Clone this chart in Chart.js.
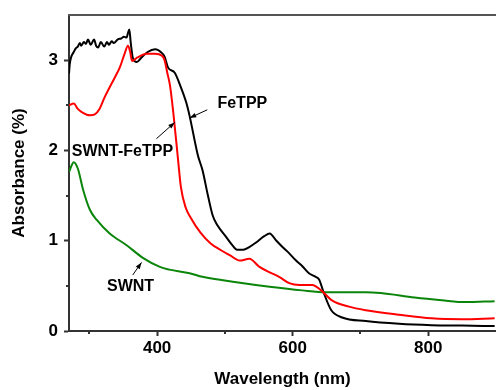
<!DOCTYPE html>
<html>
<head>
<meta charset="utf-8">
<script src="https://cdn.jsdelivr.net/npm/chart.js@4.4.1/dist/chart.umd.min.js"></script>
<style>
  html, body { margin: 0; padding: 0; background: #fff; }
  #wrap { width: 496px; height: 390px; }
</style>
</head>
<body>
<div id="wrap"><canvas id="uvChart" width="496" height="390"></canvas></div>
<script>
// 波长 (nm) 与吸光度数据
const feWl = [270, 271, 273, 277, 280, 283, 286, 288, 292, 295, 298, 302, 307, 310, 313, 317, 322, 326, 329, 333, 336, 342, 347, 351, 355, 357, 359, 361, 364, 370, 377, 386, 397, 407, 411, 416, 426, 433, 443, 448, 460, 467, 475, 482, 489, 502, 510, 518, 527, 536, 546, 558, 566, 576, 585, 595, 605, 614, 624, 634, 639, 646, 657, 673, 708, 757, 805, 850, 898];
const feAbs = [2.85, 2.95, 3.03, 3.09, 3.13, 3.15, 3.19, 3.16, 3.20, 3.18, 3.23, 3.17, 3.23, 3.16, 3.14, 3.20, 3.15, 3.20, 3.17, 3.21, 3.19, 3.23, 3.24, 3.26, 3.25, 3.30, 3.34, 3.20, 3.03, 2.98, 3.03, 3.09, 3.12, 3.08, 3.04, 2.92, 2.86, 2.74, 2.53, 2.38, 1.95, 1.78, 1.50, 1.28, 1.17, 1.04, 0.96, 0.90, 0.90, 0.93, 0.98, 1.05, 1.08, 1.00, 0.93, 0.86, 0.78, 0.72, 0.64, 0.60, 0.57, 0.42, 0.23, 0.15, 0.11, 0.08, 0.065, 0.06, 0.055];

const swFeWl = [270, 277, 283, 290, 301, 308, 315, 322, 330, 337, 345, 352, 357, 360, 363, 371, 385, 397, 407, 411, 415, 419, 424, 431, 435, 442, 450, 464, 479, 493, 507, 522, 536, 551, 566, 580, 595, 610, 629, 642, 658, 683, 708, 757, 805, 850, 898];
const swFeAbs = [2.50, 2.52, 2.46, 2.42, 2.39, 2.40, 2.46, 2.58, 2.70, 2.80, 2.92, 3.07, 3.16, 3.10, 2.99, 3.03, 3.07, 3.07, 3.05, 3.00, 2.86, 2.72, 2.41, 1.89, 1.60, 1.37, 1.25, 1.09, 0.97, 0.90, 0.84, 0.78, 0.80, 0.71, 0.65, 0.60, 0.53, 0.51, 0.51, 0.45, 0.34, 0.27, 0.23, 0.18, 0.14, 0.13, 0.14];

const swWl = [270, 272, 277, 283, 291, 301, 311, 330, 355, 379, 404, 418, 448, 467, 517, 566, 614, 649, 708, 730, 780, 820, 855, 898];
const swAbs = [1.76, 1.80, 1.87, 1.80, 1.56, 1.34, 1.23, 1.08, 0.95, 0.81, 0.71, 0.68, 0.64, 0.60, 0.54, 0.49, 0.45, 0.43, 0.43, 0.42, 0.37, 0.34, 0.32, 0.33];

// 刻度
const xTicks = [400, 600, 800];
const xMinor = [300, 500, 700];
const yTicks = [0, 1, 2, 3];
const yMinor = [0.5, 1.5, 2.5];

// 标注 (文字位置与箭头, 数据坐标)
const notes = [
  { text: 'FeTPP', at: [489, 2.52], from: [474, 2.45], to: [448, 2.36] },
  { text: 'SWNT-FeTPP', at: [274, 1.99], from: [399, 2.13], to: [426, 2.31] },
  { text: 'SWNT', at: [326, 0.49], from: [364, 0.62], to: [377, 0.76] }
];

const FONT = "'Liberation Sans', Arial, sans-serif";

function toPoints(xs, ys) {
  return xs.map((x, i) => ({ x: x, y: ys[i] }));
}

// 次刻度、上边框和标注
const extras = {
  id: 'extras',
  afterDraw(chart) {
    const ctx = chart.ctx;
    const area = chart.chartArea;
    const xs = chart.scales.x;
    const ys = chart.scales.y;
    ctx.save();
    ctx.strokeStyle = '#333';
    ctx.lineWidth = 2;
    xMinor.forEach(v => {
      const px = Math.round(xs.getPixelForValue(v));
      ctx.beginPath();
      ctx.moveTo(px, area.bottom);
      ctx.lineTo(px, area.bottom + 3);
      ctx.stroke();
    });
    yMinor.forEach(v => {
      const py = Math.round(ys.getPixelForValue(v));
      ctx.beginPath();
      ctx.moveTo(area.left, py);
      ctx.lineTo(area.left - 3, py);
      ctx.stroke();
    });
    // 上边框
    ctx.strokeStyle = '#555';
    ctx.beginPath();
    ctx.moveTo(area.left - 1, area.top);
    ctx.lineTo(area.right, area.top);
    ctx.stroke();

    // 标注
    ctx.fillStyle = '#000';
    ctx.strokeStyle = '#000';
    ctx.lineWidth = 1;
    ctx.font = 'bold 16px ' + FONT;
    ctx.textBaseline = 'middle';
    ctx.textAlign = 'left';
    notes.forEach(n => {
      ctx.fillText(n.text, xs.getPixelForValue(n.at[0]), ys.getPixelForValue(n.at[1]));
      const x1 = xs.getPixelForValue(n.from[0]), y1 = ys.getPixelForValue(n.from[1]);
      const x2 = xs.getPixelForValue(n.to[0]), y2 = ys.getPixelForValue(n.to[1]);
      const ang = Math.atan2(y2 - y1, x2 - x1);
      ctx.beginPath();
      ctx.moveTo(x1, y1);
      ctx.lineTo(x2, y2);
      ctx.stroke();
      ctx.beginPath();
      ctx.moveTo(x2, y2);
      ctx.lineTo(x2 - 7 * Math.cos(ang - 0.35), y2 - 7 * Math.sin(ang - 0.35));
      ctx.lineTo(x2 - 7 * Math.cos(ang + 0.35), y2 - 7 * Math.sin(ang + 0.35));
      ctx.closePath();
      ctx.fill();
    });
    ctx.restore();
  }
};

const tickFont = { family: FONT, size: 17, weight: 'bold' };

new Chart(document.getElementById('uvChart'), {
  type: 'line',
  data: {
    datasets: [
      { label: 'SWNT-FeTPP', data: toPoints(swFeWl, swFeAbs), borderColor: '#ff0000' },
      { label: 'FeTPP', data: toPoints(feWl, feAbs), borderColor: '#000000' },
      { label: 'SWNT', data: toPoints(swWl, swAbs), borderColor: '#0a850a' }
    ]
  },
  options: {
    responsive: false,
    animation: false,
    devicePixelRatio: 1,
    layout: { padding: { top: 15, right: 0, bottom: 0, left: 0 } },
    elements: {
      line: { borderWidth: 2, cubicInterpolationMode: 'monotone' },
      point: { radius: 0 }
    },
    plugins: {
      legend: { display: false },
      tooltip: { enabled: false }
    },
    scales: {
      x: {
        type: 'linear',
        min: 270,
        max: 900,
        afterBuildTicks: axis => { axis.ticks = xTicks.map(v => ({ value: v })); },
        afterFit: axis => { axis.height = 59; axis.paddingLeft = 0; axis.paddingRight = 0; },
        ticks: { font: tickFont, color: '#000', padding: 2, maxRotation: 0, autoSkip: false },
        grid: { drawOnChartArea: false, tickLength: 5, tickWidth: 2, tickColor: '#333' },
        border: { color: '#333', width: 2 },
        title: { display: true, text: 'Wavelength (nm)', font: tickFont, color: '#000', padding: 0 }
      },
      y: {
        min: 0,
        max: 3.5,
        afterBuildTicks: axis => { axis.ticks = yTicks.map(v => ({ value: v })); },
        afterFit: axis => { axis.width = 69; axis.paddingTop = 0; axis.paddingBottom = 0; },
        ticks: { font: tickFont, color: '#000', padding: 6 },
        grid: { drawOnChartArea: false, tickLength: 5, tickWidth: 2, tickColor: '#333' },
        border: { color: '#333', width: 2 },
        title: { display: true, text: 'Absorbance (%)', font: tickFont, color: '#000', padding: { top: 9, bottom: 0 } }
      }
    }
  },
  plugins: [extras]
});
</script>
</body>
</html>
